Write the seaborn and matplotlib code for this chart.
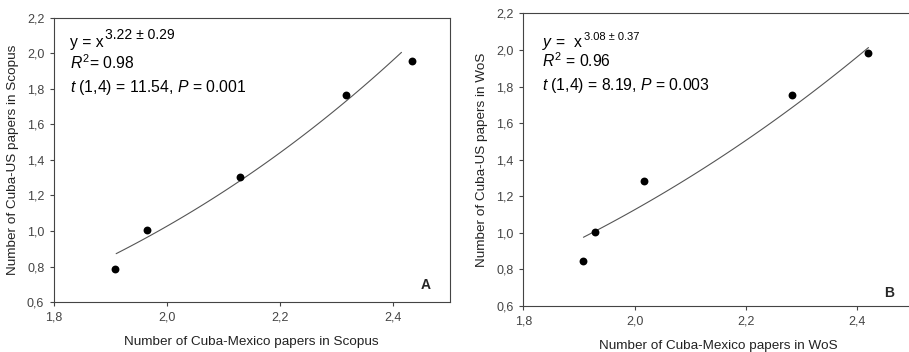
import numpy as np
import pandas as pd
import matplotlib
matplotlib.use("Agg")
import matplotlib.pyplot as plt
from matplotlib.ticker import FuncFormatter
import seaborn as sns

sns.set_style("ticks")
plt.rcParams["font.family"] = ["Liberation Sans", "DejaVu Sans"]
plt.rcParams["mathtext.fontset"] = "custom"
plt.rcParams["mathtext.rm"] = "Liberation Sans"
plt.rcParams["mathtext.it"] = "Liberation Sans:italic"

# Panel A: Scopus
scopus_mexico = [1.908, 1.965, 2.129, 2.317, 2.433]
scopus_us = [0.785, 1.005, 1.302, 1.766, 1.955]
# power curve y = a * x^b as drawn in the picture, and its x range
scopus_fit = dict(a=0.0877, b=3.55, x0=1.91, x1=2.415)

# Panel B: WoS
wos_mexico = [1.908, 1.929, 2.016, 2.282, 2.419]
wos_us = [0.846, 1.006, 1.283, 1.752, 1.985]
wos_fit = dict(a=0.1363, b=3.047, x0=1.908, x1=2.42)

xticks = [1.8, 2.0, 2.2, 2.4]
yticks = [0.6, 0.8, 1.0, 1.2, 1.4, 1.6, 1.8, 2.0, 2.2]

panels = [
    dict(x=scopus_mexico, y=scopus_us, fit=scopus_fit,
         pos=[0.0594, 0.142, 0.4351, 0.807],
         xlabel="Number of Cuba-Mexico papers in Scopus",
         ylabel="Number of Cuba-US papers in Scopus",
         head="y = x", sup="3.22 \u00b1 0.29", supsize=10, supdy=6,
         lines=[r"$R^2$= 0.98", r"$t$ (1,4) = 11.54, $P$ = 0.001"],
         ty=[0.898, 0.820, 0.740], tx=0.04, tag="A", tagpos=(0.927, 0.035)),
    dict(x=wos_mexico, y=wos_us, fit=wos_fit,
         pos=[0.5757, 0.1307, 0.4287, 0.831],
         xlabel="Number of Cuba-Mexico papers in WoS",
         ylabel="Number of Cuba-US papers in WoS",
         head=r"$y$ =  x", sup="3.08 \u00b1 0.37", supsize=8, supdy=7,
         lines=[r"$R^2$ = 0.96", r"$t$ (1,4) = 8.19, $P$ = 0.003"],
         ty=[0.886, 0.818, 0.738], tx=0.049, tag="B", tagpos=(0.926, 0.022)),
]

fig = plt.figure(figsize=(9.09, 3.52), dpi=100)
comma = FuncFormatter(lambda v, p: f"{v:.1f}".replace(".", ","))

for p in panels:
    ax = fig.add_axes(p["pos"])
    df = pd.DataFrame({"x": p["x"], "y": p["y"]})
    f = p["fit"]
    xs = np.linspace(f["x0"], f["x1"], 60)
    fit = pd.DataFrame({"x": xs, "y": f["a"] * xs ** f["b"]})
    sns.lineplot(data=fit, x="x", y="y", ax=ax, color="#555555", lw=0.8)
    sns.scatterplot(data=df, x="x", y="y", ax=ax, color="black", s=32,
                    edgecolor="black", linewidth=0, zorder=3)
    ax.set_xlim(1.8, 2.5)
    ax.set_ylim(0.6, 2.2)
    ax.set_xticks(xticks)
    ax.set_yticks(yticks)
    ax.xaxis.set_major_formatter(comma)
    ax.yaxis.set_major_formatter(comma)
    ax.tick_params(labelsize=9, labelcolor="#444444", colors="#444444",
                   length=3, width=0.8, direction="out", pad=4)
    for s in ax.spines.values():
        s.set_color("#444444")
        s.set_linewidth(0.8)
    ax.set_xlabel(p["xlabel"], fontsize=9.7, color="#222222", labelpad=9)
    ax.set_ylabel(p["ylabel"], fontsize=9.7, color="#222222", labelpad=6)

    # equation with a larger-than-mathtext exponent
    head = ax.text(p["tx"], p["ty"][0], p["head"], transform=ax.transAxes,
                   fontsize=11.3, va="baseline", ha="left", color="black")
    ax.annotate(p["sup"], xy=(1, 0), xycoords=head,
                xytext=(0.8, p["supdy"]), textcoords="offset points",
                fontsize=p["supsize"], ha="left", va="bottom", color="black")
    for t, yy in zip(p["lines"], p["ty"][1:]):
        ax.text(p["tx"], yy, t, transform=ax.transAxes, fontsize=11.3,
                va="baseline", ha="left", color="black")
    ax.text(p["tagpos"][0], p["tagpos"][1], p["tag"], transform=ax.transAxes,
            fontsize=10, fontweight="bold", ha="left", va="bottom")

fig.savefig("out.png", dpi=100)
